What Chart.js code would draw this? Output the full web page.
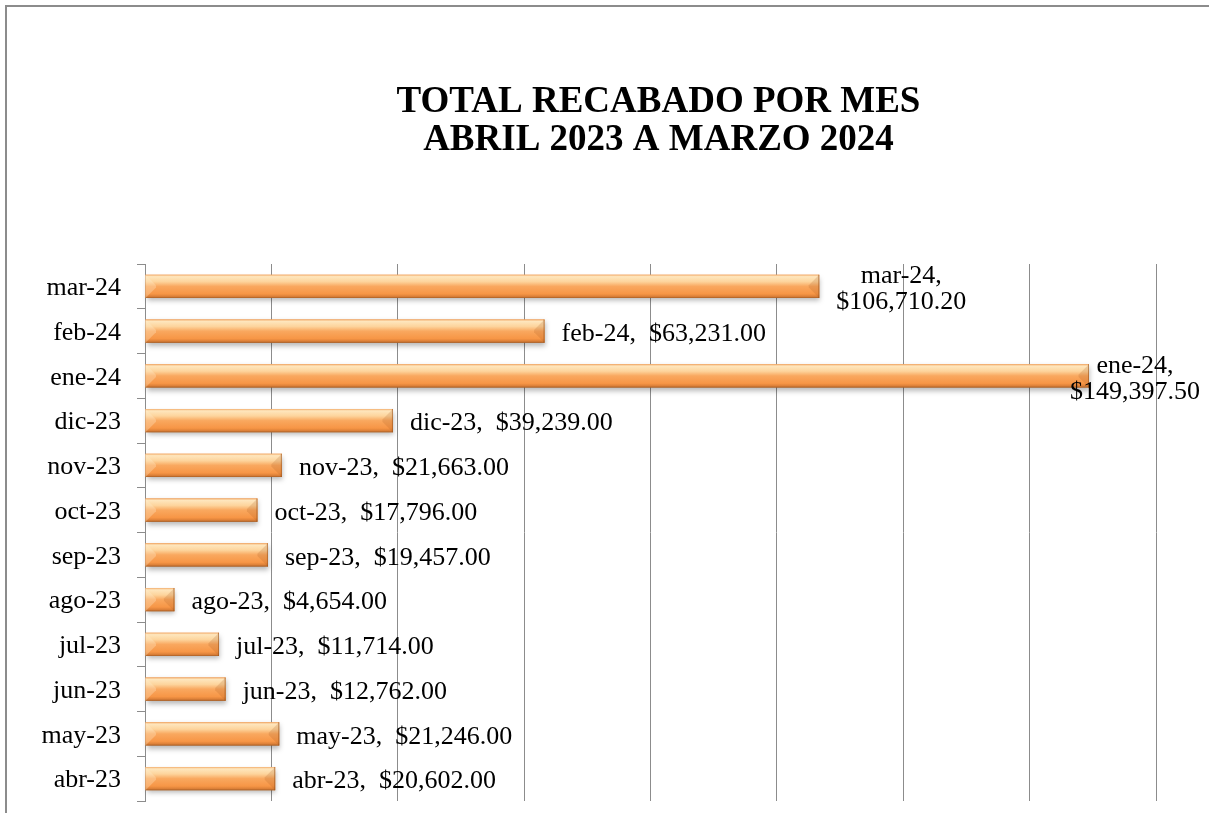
<!DOCTYPE html>
<html lang="es">
<head>
<meta charset="utf-8">
<title>Total recabado por mes</title>
<script src="https://cdn.jsdelivr.net/npm/chart.js@4.4.1/dist/chart.umd.min.js"></script>
<style>
  html, body { margin: 0; padding: 0; background: #fff; overflow: hidden; }
  #wrap { position: relative; width: 1209px; height: 813px; }
  #frame {
    position: absolute; left: 5px; top: 5px; width: 1400px; height: 1000px;
    border-left: 2px solid #8c8c8c; border-top: 2px solid #8c8c8c;
  }
  canvas { position: absolute; left: 0; top: 0; }
</style>
</head>
<body>
<div id="wrap">
  <div id="frame"></div>
  <canvas id="chart" width="1209" height="813"></canvas>
</div>
<script>
// ── Datos ────────────────────────────────────────────────────────────
const MESES = ['mar-24', 'feb-24', 'ene-24', 'dic-23', 'nov-23', 'oct-23',
               'sep-23', 'ago-23', 'jul-23', 'jun-23', 'may-23', 'abr-23'];
const RECABADO = [106710.20, 63231.00, 149397.50, 39239.00, 21663.00, 17796.00,
                  19457.00, 4654.00, 11714.00, 12762.00, 21246.00, 20602.00];
const TITULO = ['TOTAL RECABADO POR MES', 'ABRIL 2023 A MARZO 2024'];

const FONT = '"Liberation Serif", "Times New Roman", serif';
const GRIS = '#8c8c8c';

function money(v) {
  return '$' + v.toLocaleString('en-US', { minimumFractionDigits: 2, maximumFractionDigits: 2 });
}

// Título centrado sobre el área de trazado
const titlePlugin = {
  id: 'titulo',
  afterDraw(chart) {
    const { ctx, chartArea } = chart;
    const cx = (chartArea.left + chartArea.right) / 2 + 8;
    ctx.save();
    ctx.font = 'bold 37px ' + FONT;
    ctx.fillStyle = '#000';
    ctx.textAlign = 'center';
    ctx.textBaseline = 'alphabetic';
    ctx.fillText(TITULO[0], cx, 112);
    ctx.fillText(TITULO[1], cx, 150);
    ctx.restore();
  }
};

// Barras con relieve (degradado + bisel) encima de las barras base
const bevelPlugin = {
  id: 'bisel',
  afterDatasetsDraw(chart) {
    const { ctx } = chart;
    const meta = chart.getDatasetMeta(0);
    meta.data.forEach(bar => {
      const p = bar.getProps(['x', 'y', 'base', 'height'], true);
      const left = Math.min(p.base, p.x), right = Math.max(p.base, p.x);
      const top = p.y - p.height / 2, bottom = p.y + p.height / 2;
      const w = right - left, h = bottom - top;
      const b = Math.min(h * 0.45, w / 2);

      const g = ctx.createLinearGradient(0, top, 0, bottom);
      g.addColorStop(0, '#f3ad6c');
      g.addColorStop(0.08, '#fee6bd');
      g.addColorStop(0.3, '#fdd49c');
      g.addColorStop(0.5, '#f9a85f');
      g.addColorStop(0.82, '#f79646');
      g.addColorStop(0.93, '#dc8038');
      g.addColorStop(1, '#a85e25');

      ctx.save();
      ctx.shadowColor = 'rgba(0,0,0,0.28)';
      ctx.shadowBlur = 5;
      ctx.shadowOffsetY = 3;
      ctx.shadowOffsetX = 1;
      ctx.fillStyle = g;
      ctx.fillRect(left, top, w, h);
      ctx.restore();

      ctx.save();
      // bisel izquierdo (claro)
      ctx.fillStyle = 'rgba(255,240,210,0.3)';
      ctx.beginPath();
      ctx.moveTo(left, top); ctx.lineTo(left + b, top + b);
      ctx.lineTo(left + b, bottom - b); ctx.lineTo(left, bottom);
      ctx.closePath(); ctx.fill();
      // bisel derecho (oscuro)
      ctx.fillStyle = 'rgba(160,85,25,0.18)';
      ctx.beginPath();
      ctx.moveTo(right, top); ctx.lineTo(right - b, top + b);
      ctx.lineTo(right - b, bottom - b); ctx.lineTo(right, bottom);
      ctx.closePath(); ctx.fill();
      ctx.strokeStyle = 'rgba(150,80,25,0.55)';
      ctx.lineWidth = 1;
      ctx.beginPath();
      ctx.moveTo(right - 0.5, top); ctx.lineTo(right - 0.5, bottom);
      ctx.stroke();
      ctx.restore();
    });
  }
};

// Etiquetas de datos: "mes,  $valor"; las largas van en dos líneas
const labelPlugin = {
  id: 'etiquetas',
  afterDatasetsDraw(chart) {
    const { ctx, width } = chart;
    const meta = chart.getDatasetMeta(0);
    ctx.save();
    ctx.font = '26px ' + FONT;
    ctx.fillStyle = '#000';
    ctx.textBaseline = 'middle';
    meta.data.forEach((bar, i) => {
      const p = bar.getProps(['x', 'y'], true);
      const single = MESES[i] + ',  ' + money(RECABADO[i]);
      let left = p.x + 17;
      if (single.length <= 19) {
        ctx.textAlign = 'left';
        ctx.fillText(single, left, p.y + 3);
        return;
      }
      const lines = [MESES[i] + ',', money(RECABADO[i])];
      const bw = Math.max(...lines.map(t => ctx.measureText(t).width));
      if (left + bw > width - 9) left = width - 9 - bw;
      ctx.textAlign = 'center';
      ctx.fillText(lines[0], left + bw / 2, p.y - 10);
      ctx.fillText(lines[1], left + bw / 2, p.y + 16);
    });
    ctx.restore();
  }
};

new Chart(document.getElementById('chart'), {
  type: 'bar',
  data: {
    labels: MESES,
    datasets: [{
      data: RECABADO,
      backgroundColor: '#f79646',
      borderWidth: 0,
      barPercentage: 0.52,
      categoryPercentage: 1
    }]
  },
  options: {
    indexAxis: 'y',
    responsive: false,
    animation: false,
    layout: { padding: { top: 264, right: 53, bottom: 12, left: 0 } },
    plugins: {
      legend: { display: false },
      title: { display: false },
      tooltip: { enabled: false }
    },
    scales: {
      x: {
        min: 0,
        max: 160000,
        afterFit: s => { s.height = 0; s.paddingLeft = 0; s.paddingRight = 0; },
        ticks: { display: false, stepSize: 20000 },
        grid: { color: GRIS, lineWidth: 1, drawTicks: false },
        border: { display: false }
      },
      y: {
        afterFit: s => { s.width = 145; s.paddingTop = 0; s.paddingBottom = 0; },
        ticks: { color: '#000', font: { family: FONT, size: 26 }, padding: 16, labelOffset: 2 },
        grid: { drawOnChartArea: false, drawTicks: true, tickLength: 8, color: GRIS, offset: true },
        border: { display: true, color: GRIS, width: 1 }
      }
    }
  },
  plugins: [titlePlugin, bevelPlugin, labelPlugin]
});
</script>
</body>
</html>
